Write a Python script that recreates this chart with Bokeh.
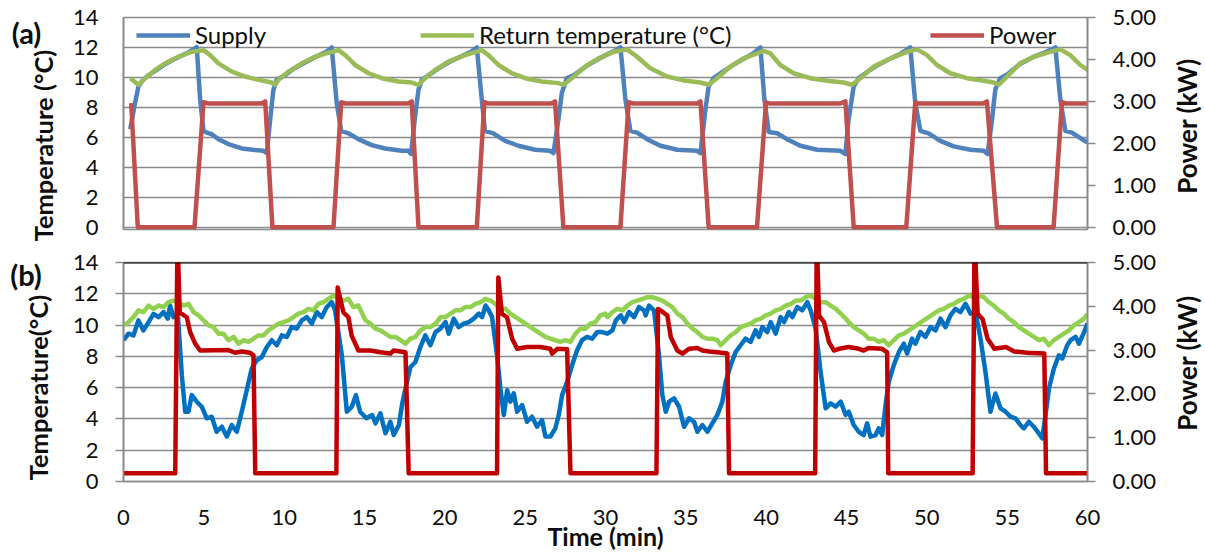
import math
from bokeh.plotting import figure
from bokeh.models import (Range1d, LinearAxis, FixedTicker, PrintfTickFormatter,
                          Legend, LegendItem, Span)
from bokeh.core.properties import value
from bokeh.layouts import column, row
from bokeh.embed import file_html
from bokeh.resources import INLINE

FONT = "Lato"
GRID = "#8a8a8a"
TXT = "#0d0d0d"

temp_ticks = [0, 2, 4, 6, 8, 10, 12, 14]
power_ticks = [0, 1, 2, 3, 4, 5]
time_ticks = [0, 5, 10, 15, 20, 25, 30, 35, 40, 45, 50, 55, 60]

# ---------------- panel (a) data: (time min, value) ----------------
supply_a = [
    (0.42, 6.54), (0.68, 8.08), (0.93, 9.4), (1.14, 9.73), (1.5, 10.1), (2.0, 10.45),
    (2.6, 10.9), (3.4, 11.35), (4.0, 11.65), (4.4, 11.9), (4.56, 12.02), (4.77, 8.52),
    (4.98, 6.43), (5.18, 6.32), (5.49, 6.21), (5.91, 5.88), (6.53, 5.55), (7.36, 5.26),
    (8.19, 5.15), (8.71, 5.1), (8.92, 4.95), (9.13, 7.2), (9.33, 9.18), (9.54, 9.84),
    (10.06, 10.15), (10.6, 10.6), (11.3, 11.0), (12.0, 11.4), (12.6, 11.7), (12.96, 12.0),
    (13.27, 8.3), (13.55, 6.43), (14.0, 6.27), (14.62, 5.88), (15.45, 5.48), (16.28, 5.26),
    (17.32, 5.1), (17.73, 5.1), (17.9, 4.89), (18.15, 7.42), (18.36, 9.18), (18.56, 9.84),
    (19.0, 10.15), (19.6, 10.6), (20.3, 11.05), (21.0, 11.4), (21.6, 11.7), (21.99, 12.0),
    (22.3, 8.52), (22.5, 6.43), (23.02, 6.27), (23.75, 5.77), (24.58, 5.44), (25.62, 5.17),
    (26.55, 5.1), (26.76, 4.95), (27.07, 7.2), (27.28, 8.96), (27.59, 9.95), (28.1, 10.2),
    (28.8, 10.75), (29.5, 11.2), (30.2, 11.6), (30.7, 11.85), (30.93, 12.0), (31.24, 8.52),
    (31.55, 6.43), (31.97, 6.32), (32.59, 5.88), (33.42, 5.44), (34.46, 5.17), (35.7, 5.1),
    (35.91, 4.95), (36.22, 7.86), (36.42, 9.4), (36.73, 9.95), (37.2, 10.3), (37.9, 10.8),
    (38.6, 11.25), (39.2, 11.6), (39.64, 12.0), (39.89, 8.52), (40.16, 6.36), (40.68, 6.27),
    (41.3, 5.88), (42.13, 5.44), (43.17, 5.17), (44.62, 5.1), (44.93, 4.89), (45.13, 7.2),
    (45.45, 9.4), (45.76, 9.95), (46.2, 10.3), (46.9, 10.8), (47.7, 11.25), (48.4, 11.6),
    (48.97, 12.0), (49.28, 8.3), (49.6, 6.43), (50.11, 6.27), (50.84, 5.77), (51.67, 5.4),
    (52.71, 5.17), (53.53, 5.1), (53.78, 4.89), (54.06, 7.2), (54.26, 9.18), (54.57, 9.95),
    (55.0, 10.2), (55.8, 10.9), (56.6, 11.35), (57.4, 11.7), (58.0, 12.0), (58.31, 8.52),
    (58.62, 6.43), (59.03, 6.32), (59.66, 5.88), (60.0, 5.66),
]
return_a = [
    (0.42, 9.95), (0.93, 9.51), (1.35, 9.95), (1.97, 10.5), (2.59, 10.94), (3.42, 11.38),
    (4.25, 11.71), (4.98, 11.82), (5.39, 11.49), (5.91, 10.94), (6.74, 10.39), (7.57, 10.06),
    (8.4, 9.84), (9.23, 9.66), (9.44, 9.51), (9.65, 9.84), (10.27, 10.39), (11.1, 10.94),
    (11.93, 11.38), (12.76, 11.65), (13.38, 11.82), (13.8, 11.49), (14.42, 10.83), (15.25, 10.28),
    (16.07, 9.95), (17.11, 9.73), (17.94, 9.66), (18.36, 9.51), (18.77, 9.95), (19.4, 10.5),
    (20.22, 11.05), (21.26, 11.49), (22.3, 11.82), (22.71, 11.49), (23.34, 10.83), (24.16, 10.28),
    (25.0, 9.95), (26.03, 9.73), (27.07, 9.62), (27.38, 9.51), (27.9, 9.95), (28.73, 10.72),
    (29.56, 11.27), (30.51, 11.71), (31.34, 11.87), (31.97, 11.38), (32.79, 10.61), (33.83, 10.06),
    (34.87, 9.8), (35.91, 9.66), (36.42, 9.51), (36.94, 9.95), (37.77, 10.72), (38.6, 11.27),
    (39.43, 11.6), (39.84, 11.78), (40.26, 11.6), (40.88, 10.83), (41.71, 10.28), (42.75, 9.95),
    (43.79, 9.78), (44.82, 9.66), (45.35, 9.51), (45.86, 9.95), (46.69, 10.72), (47.73, 11.27),
    (48.77, 11.71), (49.39, 11.87), (50.01, 11.49), (50.63, 10.83), (51.46, 10.28), (52.5, 9.95),
    (53.53, 9.78), (54.16, 9.66), (54.47, 9.51), (54.99, 10.06), (55.82, 10.94), (56.65, 11.38),
    (57.69, 11.71), (58.31, 11.87), (58.93, 11.49), (59.55, 10.83), (60.0, 10.5),
]
power_a = [
    (0.48, 2.96), (0.89, 0.0), (4.42, 0.0), (4.98, 2.98), (5.29, 2.95), (8.61, 2.95), (8.82, 3.0),
    (9.27, 0.0), (13.07, 0.0), (13.55, 2.98), (13.8, 2.95), (17.73, 2.95), (17.94, 3.0),
    (18.36, 0.0), (21.99, 0.0), (22.46, 2.98), (22.7, 2.95), (26.65, 2.95), (26.86, 3.0),
    (27.38, 0.0), (30.93, 0.0), (31.44, 2.98), (31.7, 2.95), (35.7, 2.95), (35.91, 3.0),
    (36.42, 0.0), (39.43, 0.0), (39.99, 2.98), (40.2, 2.95), (44.62, 2.95), (44.93, 3.0),
    (45.45, 0.0), (48.72, 0.0), (49.28, 2.98), (49.5, 2.95), (53.53, 2.95), (53.74, 3.0),
    (54.37, 0.0), (57.89, 0.0), (58.41, 2.98), (58.65, 2.95), (60.0, 2.95),
]

# ---------------- panel (b) data: (time min, value) ----------------
supply_b = [
    (0.0, 9.03), (0.31, 9.45), (0.62, 9.34), (0.93, 10.3), (1.24, 9.66), (1.56, 10.19),
    (1.87, 10.72), (2.18, 10.51), (2.49, 10.83), (2.76, 10.41), (2.9, 11.25), (3.11, 10.51),
    (3.38, 10.72), (3.63, 6.8), (3.84, 4.46), (4.04, 4.46), (4.25, 5.52), (4.56, 5.1),
    (4.87, 4.78), (5.18, 4.04), (5.49, 4.14), (5.8, 3.18), (6.12, 3.5), (6.43, 2.87),
    (6.74, 3.61), (7.05, 3.18), (7.36, 4.46), (7.67, 5.84), (7.98, 7.22), (8.29, 7.75),
    (8.61, 7.96), (8.92, 8.6), (9.23, 9.03), (9.54, 8.71), (9.85, 9.34), (10.16, 9.24),
    (10.47, 9.87), (10.78, 9.77), (11.1, 10.3), (11.41, 10.51), (11.72, 10.09), (12.03, 10.83),
    (12.34, 10.51), (12.65, 11.15), (12.96, 11.46), (13.17, 10.94), (13.59, 8.07), (13.9, 4.46),
    (14.21, 4.78), (14.46, 5.52), (14.73, 4.46), (15.12, 4.04), (15.48, 4.25), (15.68, 3.72),
    (15.99, 4.36), (16.3, 3.08), (16.61, 3.82), (16.82, 2.97), (17.14, 3.61), (17.35, 4.99),
    (17.55, 5.95), (17.86, 7.32), (18.17, 7.64), (18.48, 8.6), (18.79, 9.34), (19.1, 8.71),
    (19.42, 9.55), (19.73, 9.77), (20.04, 10.19), (20.24, 9.45), (20.55, 10.41), (20.86, 9.87),
    (21.18, 10.09), (21.49, 10.19), (21.8, 10.41), (22.11, 10.73), (22.32, 10.51), (22.53, 11.25),
    (22.73, 10.94), (22.94, 10.51), (23.25, 8.07), (23.46, 5.95), (23.67, 4.25), (23.88, 5.84),
    (24.08, 5.1), (24.29, 5.63), (24.5, 4.46), (24.81, 4.89), (25.12, 3.82), (25.43, 4.14),
    (25.74, 3.5), (26.05, 3.93), (26.26, 2.87), (26.57, 2.87), (26.88, 3.4), (27.09, 4.25),
    (27.3, 5.52), (27.61, 6.37), (27.92, 7.43), (28.23, 8.39), (28.54, 9.03), (28.85, 9.24),
    (29.17, 9.13), (29.48, 9.55), (29.79, 9.55), (30.12, 9.45), (30.43, 9.66), (30.64, 10.3),
    (30.95, 10.62), (31.16, 10.19), (31.47, 10.83), (31.78, 10.51), (32.09, 11.15), (32.4, 10.94),
    (32.5, 10.62), (32.71, 11.25), (33.02, 10.94), (33.33, 8.07), (33.54, 5.52), (33.75, 4.46),
    (33.96, 5.1), (34.27, 5.31), (34.58, 4.78), (34.89, 3.5), (35.2, 4.04), (35.51, 3.82),
    (35.72, 3.18), (36.03, 3.61), (36.34, 3.18), (36.65, 3.72), (36.96, 4.25), (37.27, 5.1),
    (37.48, 6.37), (37.79, 7.43), (38.1, 8.28), (38.41, 8.71), (38.72, 9.13), (39.03, 8.92),
    (39.34, 9.66), (39.55, 9.24), (39.76, 9.87), (40.07, 9.55), (40.28, 10.19), (40.59, 9.45),
    (40.9, 10.51), (41.11, 10.19), (41.42, 10.83), (41.63, 10.51), (41.94, 11.15), (42.25, 10.94),
    (42.56, 11.46), (42.77, 10.94), (43.08, 9.77), (43.39, 7.0), (43.7, 4.68), (44.01, 4.99),
    (44.32, 4.78), (44.64, 5.1), (44.95, 4.25), (45.14, 4.46), (45.45, 3.61), (45.76, 3.18),
    (46.07, 2.97), (46.28, 3.72), (46.49, 2.87), (46.81, 2.97), (47.01, 3.4), (47.22, 2.97),
    (47.43, 4.89), (47.63, 6.37), (47.94, 7.43), (48.26, 8.28), (48.57, 8.81), (48.77, 8.18),
    (49.08, 9.13), (49.29, 8.81), (49.6, 9.55), (49.91, 9.24), (50.23, 9.87), (50.54, 9.66),
    (50.85, 10.41), (51.16, 9.87), (51.47, 10.62), (51.78, 11.04), (52.09, 10.83), (52.41, 11.36),
    (52.72, 10.73), (53.03, 10.83), (53.34, 9.13), (53.65, 7.0), (53.96, 4.46), (54.27, 5.63),
    (54.59, 4.67), (54.9, 4.46), (55.21, 4.14), (55.52, 4.04), (55.83, 3.61), (56.04, 3.4),
    (56.35, 3.82), (56.66, 3.5), (56.97, 3.08), (57.18, 2.76), (57.39, 4.25), (57.6, 5.95),
    (57.91, 7.22), (58.22, 8.07), (58.43, 7.86), (58.74, 8.71), (58.95, 9.03), (59.26, 9.24),
    (59.47, 8.81), (59.79, 9.55), (60.0, 10.09),
]
return_b = [
    (0.0, 9.98), (0.31, 10.19), (0.62, 10.51), (0.93, 10.94), (1.24, 10.83), (1.56, 11.25),
    (1.87, 11.04), (2.18, 11.25), (2.49, 11.15), (2.8, 11.46), (3.11, 11.57), (3.42, 11.46),
    (3.73, 11.25), (4.04, 11.36), (4.36, 10.83), (4.67, 10.62), (4.98, 10.3), (5.29, 9.98),
    (5.6, 9.87), (5.91, 9.45), (6.22, 9.45), (6.53, 9.03), (6.85, 9.24), (7.16, 8.81),
    (7.47, 9.03), (7.78, 8.92), (8.09, 9.13), (8.4, 9.34), (8.71, 9.34), (9.02, 9.66),
    (9.33, 9.87), (9.65, 10.09), (9.96, 10.19), (10.27, 10.3), (10.58, 10.51), (10.89, 10.73),
    (11.2, 10.83), (11.51, 11.04), (11.82, 10.94), (12.13, 11.36), (12.45, 11.46), (12.76, 11.68),
    (13.07, 11.89), (13.38, 11.78), (13.69, 11.57), (14.0, 11.68), (14.31, 11.15), (14.62, 11.25),
    (15.06, 10.3), (15.37, 10.09), (15.68, 9.77), (15.99, 9.66), (16.3, 9.45), (16.61, 9.24),
    (16.93, 9.24), (17.24, 9.03), (17.55, 8.81), (17.86, 9.13), (18.17, 9.24), (18.48, 9.66),
    (18.79, 9.87), (19.1, 9.87), (19.42, 10.09), (19.73, 10.51), (20.04, 10.51), (20.35, 10.73),
    (20.66, 10.94), (20.97, 10.94), (21.28, 11.15), (21.6, 11.15), (21.91, 11.36), (22.22, 11.46),
    (22.53, 11.68), (22.84, 11.57), (23.15, 11.36), (23.46, 11.04), (23.77, 11.04), (24.08, 10.73),
    (24.4, 10.51), (24.71, 10.3), (25.02, 10.09), (25.33, 9.87), (25.64, 9.66), (25.95, 9.45),
    (26.26, 9.24), (26.57, 9.13), (26.88, 9.03), (27.19, 8.92), (27.5, 9.03), (27.82, 8.92),
    (28.13, 9.45), (28.44, 9.77), (28.75, 9.77), (29.06, 10.09), (29.37, 10.19), (29.68, 10.62),
    (29.99, 10.73), (30.12, 10.51), (30.43, 10.83), (30.74, 11.04), (31.05, 10.94), (31.36, 11.25),
    (31.67, 11.46), (31.99, 11.57), (32.3, 11.68), (32.61, 11.78), (32.92, 11.78), (33.23, 11.68),
    (33.54, 11.57), (33.85, 11.36), (34.16, 11.15), (34.47, 10.73), (34.79, 10.51), (35.1, 10.09),
    (35.41, 9.77), (35.72, 9.55), (36.03, 9.24), (36.34, 9.13), (36.65, 9.13), (36.96, 9.03),
    (37.17, 8.71), (37.48, 9.03), (37.79, 9.34), (38.1, 9.55), (38.41, 9.87), (38.72, 9.98),
    (39.03, 10.09), (39.34, 10.3), (39.66, 10.41), (39.97, 10.62), (40.28, 10.73), (40.59, 10.94),
    (40.9, 11.04), (41.21, 11.25), (41.53, 11.36), (41.84, 11.57), (42.15, 11.57), (42.46, 11.78),
    (42.77, 11.89), (43.08, 11.68), (43.39, 11.46), (43.7, 11.46), (44.01, 11.25), (44.33, 11.04),
    (44.64, 10.73), (44.95, 10.41), (45.14, 10.19), (45.45, 9.87), (45.76, 9.66), (46.07, 9.45),
    (46.38, 9.13), (46.69, 9.13), (47.01, 8.92), (47.32, 9.03), (47.63, 8.71), (47.94, 9.03),
    (48.26, 9.34), (48.57, 9.45), (48.88, 9.66), (49.19, 9.87), (49.5, 10.09), (49.81, 10.3),
    (50.12, 10.51), (50.44, 10.73), (50.75, 10.94), (51.06, 11.04), (51.37, 11.25), (51.68, 11.36),
    (51.99, 11.57), (52.3, 11.68), (52.61, 11.89), (52.93, 11.78), (53.24, 11.89), (53.55, 11.78),
    (53.86, 11.46), (54.17, 11.25), (54.48, 10.94), (54.79, 10.73), (55.1, 10.41), (55.42, 10.19),
    (55.73, 9.87), (56.04, 9.66), (56.35, 9.45), (56.66, 9.24), (56.97, 9.03), (57.28, 9.13),
    (57.59, 8.71), (57.91, 9.03), (58.22, 9.24), (58.53, 9.45), (58.84, 9.66), (59.15, 9.98),
    (59.46, 10.19), (59.77, 10.41), (60.0, 10.7),
]
power_b = [
    (0.0, 0.19), (3.22, 0.19), (3.36, 5.6), (3.5, 3.86), (3.94, 3.75), (4.15, 3.41), (4.46, 3.15),
    (4.77, 2.99), (6.53, 3.0), (6.95, 2.94), (7.36, 2.97), (7.88, 2.94), (8.09, 2.88), (8.2, 0.19),
    (13.25, 0.19), (13.33, 4.43), (13.69, 3.86), (14.0, 3.75), (14.2, 3.33), (14.62, 2.99),
    (15.37, 2.99), (15.99, 2.95), (16.61, 2.92), (16.82, 2.99), (17.55, 2.95), (17.75, 0.19),
    (23.25, 0.19), (23.33, 4.66), (23.55, 3.83), (23.87, 3.75), (24.19, 3.26), (24.5, 3.03),
    (25.12, 3.07), (25.95, 3.07), (26.57, 3.03), (26.68, 2.92), (27.0, 3.03), (27.61, 3.02),
    (27.82, 0.19), (33.17, 0.19), (33.27, 3.94), (33.44, 3.9), (33.85, 3.79), (34.06, 3.3),
    (34.47, 2.99), (34.79, 2.92), (35.2, 3.03), (35.72, 3.05), (36.03, 2.99), (36.45, 2.97),
    (36.96, 2.95), (37.58, 2.92), (37.69, 0.19), (43.05, 0.19), (43.15, 5.6), (43.29, 3.79),
    (43.6, 3.64), (43.91, 3.18), (44.22, 2.99), (44.53, 3.03), (45.14, 3.07), (45.76, 3.03),
    (46.07, 2.99), (46.38, 3.05), (47.22, 3.03), (47.53, 2.95), (47.6, 0.19), (52.85, 0.19),
    (52.97, 5.6), (53.16, 3.83), (53.47, 3.71), (53.78, 3.26), (54.2, 3.03), (54.93, 3.07),
    (55.44, 2.97), (56.27, 2.94), (57.31, 2.92), (57.42, 0.19), (60.0, 0.19),
]

# page layout (pixels)
PAGE_H = 553
LEFT_W = 62
MAIN_W = 1098
RIGHT_W = 45


def xs(series):
    return [p[0] for p in series]


def ys(series):
    return [p[1] for p in series]


def style_common(p):
    p.background_fill_color = "white"
    p.border_fill_color = "white"
    p.xgrid.visible = False
    p.ygrid.grid_line_color = GRID
    p.ygrid.grid_line_width = 1.6
    p.ygrid.ticker = FixedTicker(ticks=temp_ticks)
    p.outline_line_color = GRID
    p.outline_line_width = 1.6


def style_axis(ax, tick_out, standoff, label_standoff=0, label_size="25px"):
    ax.axis_line_color = GRID
    ax.axis_line_width = 1.6
    ax.major_tick_line_color = GRID
    ax.major_tick_line_width = 1.6
    ax.major_tick_out = tick_out
    ax.major_tick_in = 0
    ax.minor_tick_out = 0
    ax.minor_tick_in = 0
    ax.major_label_text_font = FONT
    ax.major_label_text_font_size = "22px"
    ax.major_label_text_color = TXT
    ax.major_label_standoff = standoff
    ax.axis_label_text_font = FONT
    ax.axis_label_text_font_size = label_size
    ax.axis_label_text_font_style = "bold"
    ax.axis_label_text_color = TXT
    ax.axis_label_standoff = label_standoff


def add_power_axis(p):
    ax = LinearAxis(y_range_name="pw", ticker=FixedTicker(ticks=power_ticks),
                    formatter=PrintfTickFormatter(format="%.2f"))
    style_axis(ax, 8, 17)
    p.add_layout(ax, "right")


def text_strip(width, items):
    """Narrow blank figure whose data units are its own pixels (y downward)."""
    s = figure(width=width, height=PAGE_H, x_range=Range1d(0, width), y_range=Range1d(PAGE_H, 0),
               output_backend="svg", toolbar_location=None, min_border=0,
               x_axis_location=None, y_axis_location=None)
    s.grid.visible = False
    s.outline_line_color = None
    s.background_fill_color = "white"
    s.border_fill_color = "white"
    for x, y, txt, size, angle in items:
        s.text(x=[x], y=[y], text=[txt], angle=angle, text_align=value("center"),
               text_baseline=value("middle"), text_font=value(FONT), text_font_size=value(size),
               text_font_style=value("bold"), text_color=TXT)
    return s


# ---------------- figure (a) ----------------
p1 = figure(width=MAIN_W, height=246, x_range=Range1d(0, 60), y_range=Range1d(-0.15, 14),
            output_backend="svg", toolbar_location=None,
            min_border_left=61, min_border_right=73, min_border_top=17, min_border_bottom=17)
p1.extra_y_ranges = {"pw": Range1d(-0.15 * 5 / 14, 5)}
style_common(p1)
p1.xaxis.visible = False
ya = p1.yaxis[0]
ya.ticker = FixedTicker(ticks=temp_ticks)
style_axis(ya, 0, 25)
add_power_axis(p1)

r_sa = p1.line(xs(supply_a), ys(supply_a), line_color="#4F81BD", line_width=4.5, line_join="round")
r_ra = p1.line(xs(return_a), ys(return_a), line_color="#9BBB59", line_width=4.5, line_join="round")
r_pa = p1.line(xs(power_a), ys(power_a), line_color="#C0504D", line_width=4.5, line_join="round",
               y_range_name="pw")

for label, rend, loc in [("Supply", r_sa, (13, 180)),
                         ("Return temperature (°C)", r_ra, (297, 180)),
                         ("Power", r_pa, (807, 180))]:
    leg = Legend(items=[LegendItem(label=label, renderers=[rend])], location=loc,
                 orientation="horizontal", glyph_width=54, glyph_height=20,
                 label_standoff=5, padding=0, margin=0, spacing=0,
                 border_line_color=None, background_fill_alpha=0,
                 label_text_font=FONT, label_text_font_size="24px", label_text_color=TXT)
    p1.add_layout(leg, "center")

# ---------------- figure (b) ----------------
p2 = figure(width=MAIN_W, height=PAGE_H - 246, x_range=Range1d(0, 60), y_range=Range1d(0, 14),
            output_backend="svg", toolbar_location=None,
            min_border_left=61, min_border_right=73, min_border_top=16, min_border_bottom=71)
p2.extra_y_ranges = {"pw": Range1d(0, 5)}
style_common(p2)
xb = p2.xaxis[0]
xb.ticker = FixedTicker(ticks=time_ticks)
xb.axis_label = "Time (min)"
style_axis(xb, 0, 28, -7)
xb.major_label_text_line_height = 1.0
xb.axis_label_text_line_height = 1.0
yb = p2.yaxis[0]
yb.ticker = FixedTicker(ticks=temp_ticks)
style_axis(yb, 8, 17)
add_power_axis(p2)
p2.add_layout(Span(location=14, dimension="width", line_color="black", line_width=2))

p2.line(xs(supply_b), ys(supply_b), line_color="#0070C0", line_width=4.5, line_join="round")
p2.line(xs(return_b), ys(return_b), line_color="#92D050", line_width=4.5, line_join="round")
p2.line(xs(power_b), ys(power_b), line_color="#C00000", line_width=4.5, line_join="round",
        y_range_name="pw")

# ---------------- side strips with panel tags and axis titles ----------------
left = text_strip(LEFT_W, [
    (26, 32, "(a)", "29px", 0),
    (42.5, 145, "Temperature (°C)", "25.5px", math.pi / 2),
    (25.5, 274, "(b)", "29px", 0),
    (37, 387, "Temperature(°C)", "25.5px", math.pi / 2),
])
right = text_strip(RIGHT_W, [
    (26, 125.5, "Power (kW)", "26px", math.pi / 2),
    (26, 362.5, "Power (kW)", "26px", math.pi / 2),
])

layout = row(left, column(p1, p2, spacing=0), right, spacing=0)
open("out.html", "w").write(file_html(layout, INLINE))
